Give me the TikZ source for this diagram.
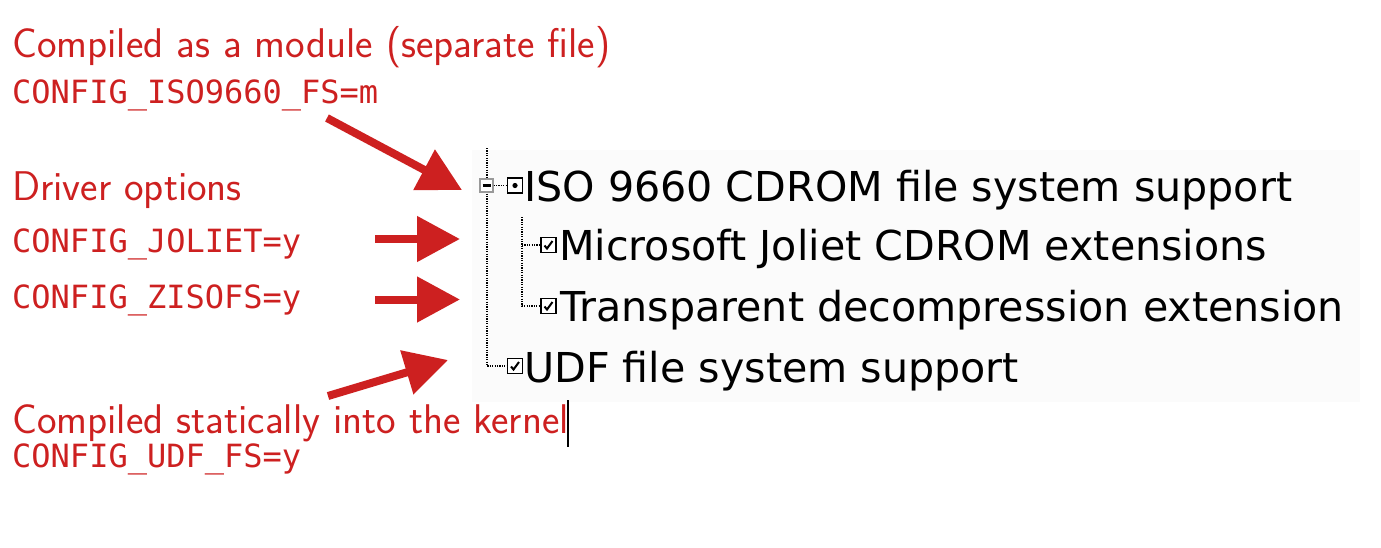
\documentclass[tikz,border=0pt]{standalone}
\usepackage{fontspec}
\usetikzlibrary{arrows.meta}
\newfontfamily\treefont{DejaVu Sans}
\newfontfamily\codefont{DejaVu Sans Mono}
\definecolor{slidered}{RGB}{205,32,32}
\begin{document}
\begin{tikzpicture}[x=1pt,y=-1pt,
  lab/.style={anchor=base west,inner sep=0pt,text=slidered,font=\sffamily\fontsize{41.5}{44}\selectfont},
  code/.style={anchor=base west,inner sep=0pt,text=slidered,font=\codefont\fontsize{32}{34}\selectfont},
  item/.style={anchor=base west,inner sep=0pt,font=\treefont\fontsize{41.2}{44}\selectfont},
  bigarrow/.style={draw=slidered,line width=8pt,-{Triangle[length=43pt,width=44pt]}},
  treeline/.style={line width=1.2pt,dash pattern=on 1.2pt off 1.2pt},
  cbox/.style={draw,line width=1.2pt,minimum size=15pt,inner sep=0pt,fill=white},
  checked/.style={cbox,path picture={\draw[black,line width=2pt,shift={(path picture bounding box.center)}] (-4,0.5) -- (-1.5,3.5) -- (4,-4);}},
  radio box/.style={cbox,path picture={\fill[black,shift={(path picture bounding box.center)}] (0,0) circle (2.6);}},
  minusbox/.style={draw=black!40,line width=1.2pt,minimum size=13pt,inner sep=0pt,fill=white,
    path picture={\draw[black,line width=2.2pt,shift={(path picture bounding box.center)}] (-4,0) -- (4,0);}}]
\useasboundingbox (0,0) rectangle (1381,547);
% screenshot background
\fill[black!1.5] (472,150) rectangle (1360,402);

% red annotations
\node[lab]  (mod)    at (12,57)  {Compiled as a module (separate file)};
\node[code] (isocfg) at (12,103) {CONFIG\_ISO9660\_FS=m};
\node[lab]  (drv)    at (12,200) {Driver options};
\node[code] (jolcfg) at (12,252) {CONFIG\_JOLIET=y};
\node[code] (ziscfg) at (12,308) {CONFIG\_ZISOFS=y};
\node[lab]  (stat)   at (12,433) {Compiled statically into the kernel};
\node[code] (udfcfg) at (12,467) {CONFIG\_UDF\_FS=y};

% text cursor
\coordinate (curtop) at (568,400);
\coordinate (curbot) at (568,447);
\draw[line width=1.3pt] (curtop) -- (curbot);

% tree
\coordinate (otop) at (487,148);
\coordinate (itop) at (522,217);
\node[radio box] (b1) at (515,185.5) {};
\node[checked]   (b2) at (548.5,245) {};
\node[checked]   (b3) at (548.5,306) {};
\node[checked]   (b4) at (515,366) {};
\draw[treeline] (otop) |- (b4.west);
\draw[treeline] (itop) |- (b3.west);
\draw[treeline] (itop |- b2.west) -- (b2.west);
\node[minusbox] (mb) at (486.5,185.5) {};
\draw[treeline] (mb.east) -- (b1.west);

\node[item] (t1) at (524,201) {ISO 9660 CDROM file system support};
\node[item] (t2) at (559,260) {Microsoft Joliet CDROM extensions};
\node[item] (t3) at (560,321) {Transparent decompression extension};
\node[item] (t4) at (524,382) {UDF file system support};

% arrows
\coordinate (a1s) at (327,118);
\coordinate (a1e) at (462,190);
\coordinate (a2s) at (375,239);
\coordinate (a2e) at (460,239);
\coordinate (a3s) at (375,299.5);
\coordinate (a3e) at (460,299.5);
\coordinate (a4s) at (328,396);
\coordinate (a4e) at (448,360);
\draw[bigarrow] (a1s) -- (a1e);
\draw[bigarrow] (a2s) -- (a2e);
\draw[bigarrow] (a3s) -- (a3e);
\draw[bigarrow] (a4s) -- (a4e);
\end{tikzpicture}
\end{document}
